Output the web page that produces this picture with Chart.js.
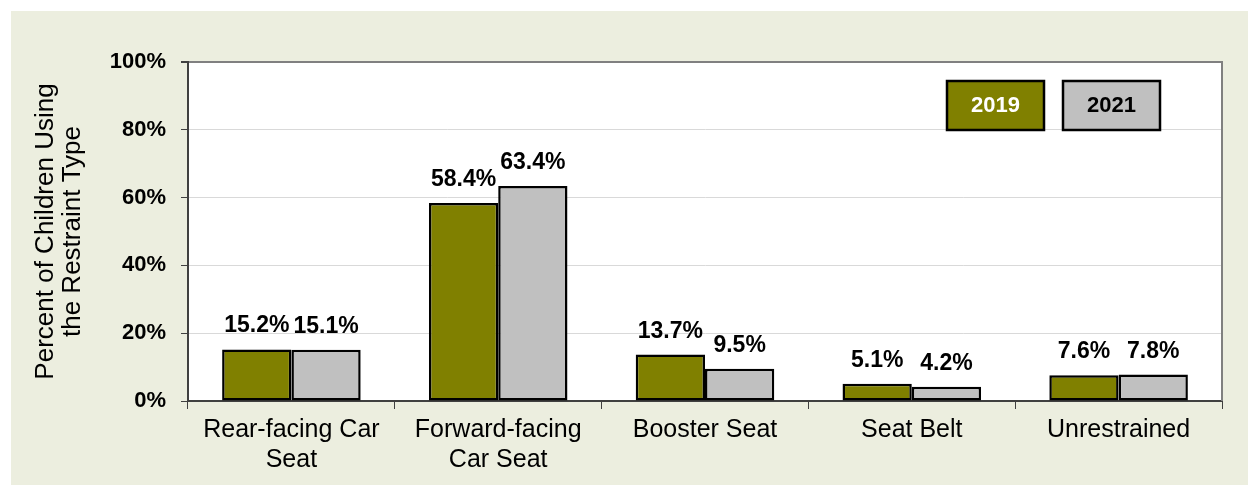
<!DOCTYPE html>
<html>
<head>
<meta charset="utf-8">
<script src="https://cdn.jsdelivr.net/npm/chart.js@4"></script>
<style>
    html, body { margin: 0; padding: 0; background: #ffffff; }
    #wrap { position: absolute; left: 11px; top: 11px; width: 1237px; height: 474px; background: #ECEEDF; }
</style>
</head>
<body>
<div id="wrap"><canvas id="restraintChart" width="1237" height="474"></canvas></div>
<script>
        const categories = [['Rear-facing Car', 'Seat'], ['Forward-facing', 'Car Seat'], 'Booster Seat', 'Seat Belt', 'Unrestrained'];
        const values2019 = [15.2, 58.4, 13.7, 5.1, 7.6];
        const values2021 = [15.1, 63.4, 9.5, 4.2, 7.8];
        const yTicks = [0, 20, 40, 60, 80, 100];

        // white plot area + grey right border
        const plotBox = {
            id: 'plotBox',
            beforeDraw(chart) {
                const { ctx, chartArea: a } = chart;
                ctx.save();
                ctx.fillStyle = '#ffffff';
                ctx.fillRect(a.left, a.top, a.right - a.left, a.bottom - a.top);
                ctx.restore();
            },
            afterDraw(chart) {
                const { ctx, chartArea: a } = chart;
                ctx.save();
                ctx.strokeStyle = '#808080';
                ctx.lineWidth = 2;
                ctx.beginPath();
                ctx.moveTo(a.right, a.top - 1);
                ctx.lineTo(a.right, a.bottom);
                ctx.stroke();
                ctx.restore();
            }
        };

        // value labels above bars
        const valueLabels = {
            id: 'valueLabels',
            afterDatasetsDraw(chart) {
                const ctx = chart.ctx;
                ctx.save();
                ctx.font = 'bold 23px "Liberation Sans", Arial, sans-serif';
                ctx.fillStyle = '#000000';
                ctx.textAlign = 'center';
                ctx.textBaseline = 'alphabetic';
                chart.data.datasets.forEach((ds, i) => {
                    chart.getDatasetMeta(i).data.forEach((bar, j) => {
                        ctx.fillText(ds.data[j].toFixed(1) + '%', bar.x, bar.y - 17);
                    });
                });
                ctx.restore();
            }
        };

        // boxed legend
        const boxLegend = {
            id: 'boxLegend',
            afterDraw(chart) {
                const ctx = chart.ctx;
                const boxes = [{ x: 936, w: 97 }, { x: 1052, w: 97 }];
                ctx.save();
                ctx.font = 'bold 22px "Liberation Sans", Arial, sans-serif';
                ctx.textAlign = 'center';
                ctx.textBaseline = 'middle';
                chart.data.datasets.forEach((ds, i) => {
                    const b = boxes[i];
                    ctx.fillStyle = ds.backgroundColor;
                    ctx.fillRect(b.x, 70, b.w, 49);
                    ctx.strokeStyle = '#000000';
                    ctx.lineWidth = 2.5;
                    ctx.strokeRect(b.x, 70, b.w, 49);
                    ctx.fillStyle = ds.labelColor;
                    ctx.fillText(ds.label, b.x + b.w / 2, 95);
                });
                ctx.restore();
            }
        };

        const ctx = document.getElementById('restraintChart').getContext('2d');
        new Chart(ctx, {
            type: 'bar',
            data: {
                labels: categories,
                datasets: [
                    { label: '2019', data: values2019, backgroundColor: '#808000', labelColor: '#ffffff', borderColor: '#000000', borderWidth: 2.5, categoryPercentage: 0.67, barPercentage: 1.0, borderSkipped: false },
                    { label: '2021', data: values2021, backgroundColor: '#C0C0C0', labelColor: '#000000', borderColor: '#000000', borderWidth: 2.5, categoryPercentage: 0.67, barPercentage: 1.0, borderSkipped: false }
                ]
            },
            plugins: [plotBox, valueLabels, boxLegend],
            options: {
                responsive: false,
                animation: false,
                layout: { padding: { left: 0, top: 51, right: 26, bottom: 0 } },
                plugins: { legend: { display: false }, tooltip: { enabled: false } },
                scales: {
                    x: {
                        afterFit: s => { s.height = 84; },
                        grid: { offset: true, drawOnChartArea: false, tickLength: 8, color: '#404040', lineWidth: 1 },
                        border: { color: '#404040', width: 2 },
                        ticks: { color: '#000000', padding: 6, maxRotation: 0, font: { family: '"Liberation Sans", Arial, sans-serif', size: 25, lineHeight: 1.2 } }
                    },
                    y: {
                        min: 0,
                        max: 100,
                        afterFit: s => { s.width = 177; },
                        afterBuildTicks: s => { s.ticks = yTicks.map(v => ({ value: v })); },
                        grid: {
                            color: c => (c.tick && c.tick.value === 100 ? '#808080' : '#d9d9d9'),
                            lineWidth: c => (c.tick && c.tick.value === 100 ? 2 : 1),
                            tickColor: '#404040',
                            tickLength: 7
                        },
                        border: { color: '#404040', width: 2 },
                        ticks: { color: '#000000', padding: 15, callback: v => v + '%', font: { family: '"Liberation Sans", Arial, sans-serif', size: 22, weight: 'bold' } },
                        title: {
                            display: true,
                            text: ['Percent of Children Using', 'the Restraint Type'],
                            color: '#000000',
                            padding: { top: 21, bottom: 0 },
                            font: { family: '"Liberation Sans", Arial, sans-serif', size: 26, lineHeight: 1.05 }
                        }
                    }
                }
            }
        });
</script>
</body>
</html>
